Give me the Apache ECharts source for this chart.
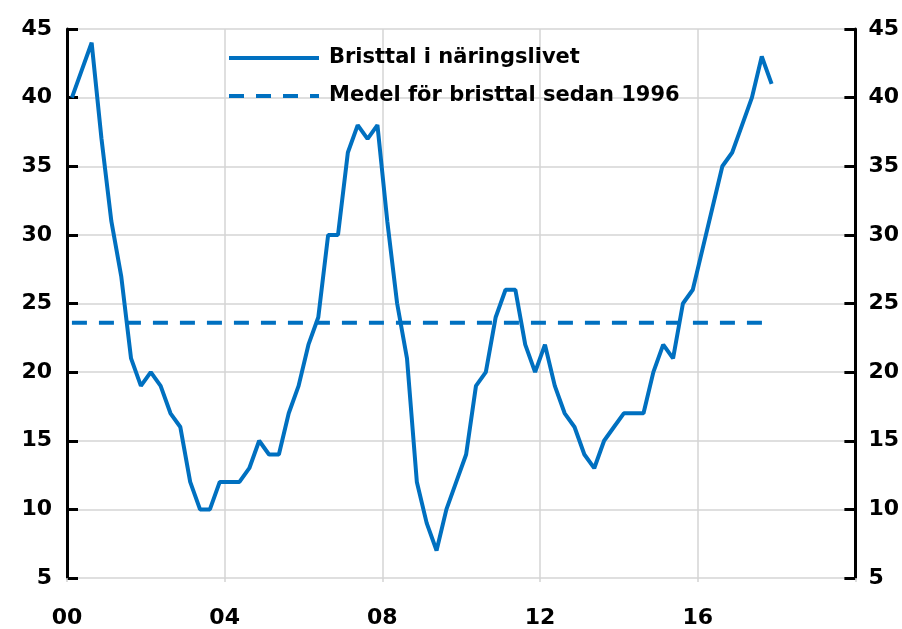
<!DOCTYPE html>
<html>
<head>
<meta charset="utf-8">
<script src="https://cdn.jsdelivr.net/npm/echarts@6/dist/echarts.min.js"></script>
<style>
  html, body { margin: 0; padding: 0; background: #fff; }
  #chart { width: 902px; height: 629px; }
</style>
</head>
<body>
<div id="chart"></div>
<script>
// kvartalsdata, 2000 kv1 - 2017 kv4
var startYear = 2000;
var bristtal = [
    40, 42, 44, 37, 31, 27, 21, 19,
    20, 19, 17, 16, 12, 10, 10, 12,
    12, 12, 13, 15, 14, 14, 17, 19,
    22, 24, 30, 30, 36, 38, 37, 38,
    31, 25, 21, 12, 9, 7, 10, 12,
    14, 19, 20, 24, 26, 26, 22, 20,
    22, 19, 17, 16, 14, 13, 15, 16,
    17, 17, 17, 20, 22, 21, 25, 26,
    29, 32, 35, 36, 38, 40, 43, 41
];
var medel = 23.6;
var yTicks = [5, 10, 15, 20, 25, 30, 35, 40, 45];
var xTicks = ['00', '04', '08', '12', '16'];

var names = ['Bristtal i näringslivet', 'Medel för bristtal sedan 1996'];
var blue = '#0070C0';
var font = '"DejaVu Sans", sans-serif';

// mitt i kvartalet
function qx(i) {
    return startYear + Math.floor(i / 4) + (i % 4) / 4 + 0.125;
}
var lineData = bristtal.map(function (v, i) { return [qx(i), v]; });
var medelData = [[qx(0), medel], [qx(bristtal.length - 1), medel]];

var chart = echarts.init(document.getElementById('chart'));

function yAxis(pos, margin) {
    return {
        type: 'value',
        position: pos,
        min: yTicks[0],
        max: yTicks[yTicks.length - 1],
        interval: 5,
        axisLine: { show: true, lineStyle: { color: '#000', width: 3 } },
        axisTick: { show: true, inside: true, length: 11, lineStyle: { color: '#000', width: 3 } },
        axisLabel: { color: '#000', fontSize: 22, fontWeight: 'bold', fontFamily: font, margin: margin },
        splitLine: { show: pos === 'left', lineStyle: { color: '#d4d4d4', width: 1.5 } }
    };
}

var option = {
    animation: false,
    backgroundColor: '#fff',
    grid: { left: 67, right: 46, top: 29, bottom: 51 },
    legend: {
        orient: 'vertical',
        left: 227,
        top: 45,
        padding: 0,
        itemWidth: 90,
        itemHeight: 14,
        itemGap: 12,
        itemStyle: { opacity: 0 },
        lineStyle: { width: 4 },
        data: names,
        textStyle: { color: '#000', fontSize: 21, fontWeight: 'bold', fontFamily: font, lineHeight: 26, padding: [0, 0, 0, 5] }
    },
    xAxis: {
        type: 'value',
        min: startYear,
        max: startYear + 20,
        interval: 4,
        axisLine: { show: false },
        axisTick: { show: true, length: 4, lineStyle: { color: '#d4d4d4', width: 1.5 } },
        axisLabel: {
            color: '#000', fontSize: 22, fontWeight: 'bold', fontFamily: font, margin: 29,
            formatter: function (v) {
                var k = Math.round((v - startYear) / 4);
                return xTicks[k] || '';
            }
        },
        splitLine: { show: true, lineStyle: { color: '#d4d4d4', width: 1.5 } }
    },
    yAxis: [yAxis('left', 15), yAxis('right', 13)],
    series: [
        {
            name: names[0],
            type: 'line',
            data: lineData,
            symbol: 'none',
            color: blue,
            lineStyle: { color: blue, width: 4 },
            z: 3
        },
        {
            name: names[1],
            type: 'line',
            data: medelData,
            symbol: 'none',
            color: blue,
            lineStyle: { color: blue, width: 4, type: [15, 12] },
            z: 2
        }
    ]
};
chart.setOption(option);
</script>
</body>
</html>
